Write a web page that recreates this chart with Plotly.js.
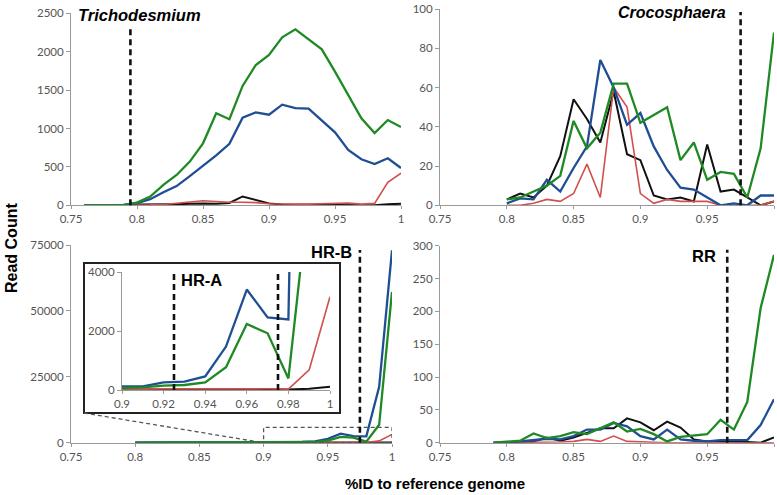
<!DOCTYPE html>
<html>
<head>
<meta charset="utf-8">
<script src="https://cdn.plot.ly/plotly-3.0.1.min.js"></script>
<style>html,body{margin:0;padding:0;background:#fff;}#chart{width:777px;height:495px;}</style>
</head>
<body>
<div id="chart"></div>
<script>
// ---------- data ----------
const triX = [0.76,0.77,0.78,0.79,0.80,0.81,0.82,0.83,0.84,0.85,0.86,0.87,0.88,0.89,0.90,0.91,0.92,0.93,0.94,0.95,0.96,0.97,0.98,0.99,1.00];
const triGreen = [0,0,0,5,35,113,265,395,569,807,1198,1120,1554,1827,1957,2187,2291,2161,2031,1740,1437,1133,940,1110,1020];
const triBlue  = [0,0,0,5,30,80,170,250,380,510,650,800,1140,1210,1180,1310,1265,1260,1105,950,720,600,537,612,486];
const triRed   = [0,0,0,0,0,5,10,25,45,60,50,40,40,35,20,15,15,15,20,25,30,15,25,300,417];
const triBlack = [0,0,0,0,10,10,10,15,20,25,20,30,115,75,25,10,10,10,10,8,5,2,0,15,20];

const croX = [0.80,0.81,0.82,0.83,0.84,0.85,0.86,0.87,0.88,0.89,0.90,0.91,0.92,0.93,0.94,0.95,0.96,0.97,0.98,0.99,1.00];
const croGreen = [3,4,7,10,15,43,29,37,62,62,42,46,50,23,32,13,17,16,4,29,88];
const croBlue  = [1,3.5,3,13,7,19,30,74,60,41,47,30,18,9,8,4,0,1,0,5,5];
const croBlack = [3,6,4,10,25,54,44,32,58,26,23,5,3,4,2,31,7,8,4,0,2];
const croRed   = [0,0,1,3,2,6,21,4,60,50,6,1,3,2,2,2,0,0,0,0,2];

const hrX = [0.80,0.81,0.82,0.83,0.84,0.85,0.86,0.87,0.88,0.89,0.90,0.91,0.92,0.93,0.94,0.95,0.96,0.97,0.98,0.99,1.00];
const hrGreen = [20,20,25,30,30,40,45,50,55,60,67,90,146,169,258,775,2237,1922,393,6800,57200];
const hrBlue  = [30,35,40,45,50,55,60,70,80,100,124,124,258,281,460,1472,3405,2461,2394,21200,73000];
const hrRed   = [5,5,5,10,10,10,15,15,20,20,30,30,35,40,45,50,60,40,30,686,3158];
const hrBlack = [5,5,5,5,5,5,10,10,10,10,10,10,10,10,10,10,15,15,20,40,110];

const rrX = [0.79,0.80,0.81,0.82,0.83,0.84,0.85,0.86,0.87,0.88,0.89,0.90,0.91,0.92,0.93,0.94,0.95,0.96,0.97,0.98,0.99,1.00];
const rrGreen = [0,1,3,14,7,10,16,13,22,31,17,21,13,2,9,11,13,35,20,62,205,286];
const rrBlue  = [0,0,2,4,6,5,10,20,20,30,25,10,5,20,5,3,2,4,4,4,27,66];
const rrBlack = [0,0,1,2,8,3,8,15,22,22,37,31,19,32,23,5,2,2,2,1,0,8];
const rrRed   = [0,0,0,0,0,1,2,5,2,10,2,1,0,0,0,0,0,0,0,0,0,0];

const cutoffs = {tri: 0.795, cro: 0.975, hrA: 0.925, hrB: 0.975, rr: 0.965};
const zoomBoxTop = 5800;

// ---------- styling ----------
const C = {green:'#1f8a24', blue:'#1f4e94', red:'#d0504d', black:'#111111'};
const W = {green:2.3, blue:2.3, red:1.6, black:2};

function series(x, ys, xa, ya){
  const order = [['black',ys.black],['red',ys.red],['blue',ys.blue],['green',ys.green]];
  return order.map(([k,v]) => ({
    x: x, y: v, xaxis: xa, yaxis: ya, type:'scatter', mode:'lines',
    line:{color:C[k], width:W[k]}, hoverinfo:'skip', showlegend:false
  }));
}

const traces = [].concat(
  series(triX, {green:triGreen, blue:triBlue, red:triRed, black:triBlack}, 'x', 'y'),
  series(croX, {green:croGreen, blue:croBlue, red:croRed, black:croBlack}, 'x2', 'y2'),
  series(hrX, {green:hrGreen, blue:hrBlue, red:hrRed, black:hrBlack}, 'x3', 'y3'),
  series(rrX, {green:rrGreen, blue:rrBlue, red:rrRed, black:rrBlack}, 'x4', 'y4'),
  series(hrX, {green:hrGreen, blue:hrBlue, red:hrRed, black:hrBlack}, 'x5', 'y5')
);

const tickFont = {family:'Lato, "Liberation Sans", sans-serif', size:11.5, color:'#555'};
function xax(domain, anchor, range, dtick){
  return {domain:domain, anchor:anchor, range:range, dtick:dtick, tick0:range[0],
    showgrid:false, zeroline:false, showline:true, linecolor:'#9a9a9a', linewidth:1,
    ticks:'outside', ticklen:3, tickcolor:'#9a9a9a', tickfont:tickFont, fixedrange:true};
}
function yax(domain, anchor, range, dtick){
  return {domain:domain, anchor:anchor, range:range, dtick:dtick, tick0:0, tickformat:'d',
    showgrid:false, zeroline:false, showline:true, linecolor:'#9a9a9a', linewidth:1,
    ticks:'outside', ticklen:4, tickcolor:'#9a9a9a', tickfont:tickFont, fixedrange:true};
}
const px = v => v/777, py = v => 1 - v/495;

const dash = {color:'#111', width:2.6, dash:'6px,4px'};
const layout = {
  width:777, height:495, margin:{l:0,r:0,t:0,b:0},
  paper_bgcolor:'#fff', plot_bgcolor:'rgba(0,0,0,0)', showlegend:false,
  xaxis: xax([px(71), px(401)], 'y', [0.75,1], 0.05),
  yaxis: yax([py(205.3), py(13.3)], 'x', [0,2500], 500),
  xaxis2: xax([px(440), px(774)], 'y2', [0.75,1], 0.05),
  yaxis2: yax([py(205.3), py(9)], 'x2', [0,100], 20),
  xaxis3: xax([px(71), px(392)], 'y3', [0.75,1], 0.05),
  yaxis3: yax([py(442.7), py(245)], 'x3', [0,75000], 25000),
  xaxis4: xax([px(440), px(774)], 'y4', [0.75,1], 0.05),
  yaxis4: yax([py(442.7), py(245.7)], 'x4', [0,300], 50),
  xaxis5: xax([px(122), px(330)], 'y5', [0.9,1], 0.02),
  yaxis5: yax([py(390), py(272)], 'x5', [0,4000], 2000),
  shapes: [
    {type:'rect', xref:'paper', yref:'paper', x0:px(84), x1:px(340), y0:py(413), y1:py(263),
     line:{color:'#222', width:2}, fillcolor:'#fff', layer:'below'},
    {type:'line', xref:'paper', yref:'paper', x0:px(84), x1:px(263), y0:py(413), y1:py(442.7),
     line:{color:'#555', width:1.3, dash:'4px,3px'}},
    {type:'rect', xref:'x3', yref:'y3', x0:0.9, x1:1.0, y0:0, y1:zoomBoxTop,
     line:{color:'#555', width:1.3, dash:'4px,3px'}},
    {type:'line', xref:'x', yref:'y domain', x0:cutoffs.tri, x1:cutoffs.tri, y0:0, y1:0.92, line:dash},
    {type:'line', xref:'x2', yref:'y2 domain', x0:cutoffs.cro, x1:cutoffs.cro, y0:0, y1:0.985, line:dash},
    {type:'line', xref:'x3', yref:'y3 domain', x0:cutoffs.hrB, x1:cutoffs.hrB, y0:0, y1:0.975, line:dash},
    {type:'line', xref:'x4', yref:'y4 domain', x0:cutoffs.rr, x1:cutoffs.rr, y0:0, y1:0.98, line:dash},
    {type:'line', xref:'x5', yref:'y5 domain', x0:cutoffs.hrA, x1:cutoffs.hrA, y0:0, y1:1, line:dash},
    {type:'line', xref:'x5', yref:'y5 domain', x0:cutoffs.hrB, x1:cutoffs.hrB, y0:0, y1:1, line:dash}
  ],
  annotations: [
    {text:'<b><i>Trichodesmium</i></b>', xref:'paper', yref:'paper', x:px(76), y:py(15), xanchor:'left', yanchor:'middle', showarrow:false,
     font:{family:'"Liberation Sans", Arial, sans-serif', size:16.5, color:'#000'}},
    {text:'<b><i>Crocosphaera</i></b>', xref:'paper', yref:'paper', x:px(728), y:py(12), xanchor:'right', yanchor:'middle', showarrow:false,
     font:{family:'"Liberation Sans", Arial, sans-serif', size:16, color:'#000'}},
    {text:'<b>HR-B</b>', xref:'paper', yref:'paper', x:px(354), y:py(252), xanchor:'right', yanchor:'middle', showarrow:false,
     font:{family:'"Liberation Sans", Arial, sans-serif', size:16.5, color:'#000'}},
    {text:'<b>HR-A</b>', xref:'paper', yref:'paper', x:px(179), y:py(280), xanchor:'left', yanchor:'middle', showarrow:false,
     font:{family:'"Liberation Sans", Arial, sans-serif', size:16.5, color:'#000'}},
    {text:'<b>RR</b>', xref:'paper', yref:'paper', x:px(718), y:py(256), xanchor:'right', yanchor:'middle', showarrow:false,
     font:{family:'"Liberation Sans", Arial, sans-serif', size:16.5, color:'#000'}},
    {text:'<b>Read Count</b>', xref:'paper', yref:'paper', x:px(11), y:py(248), xanchor:'center', yanchor:'middle', textangle:-90, showarrow:false,
     font:{family:'"Liberation Sans", Arial, sans-serif', size:16, color:'#000'}},
    {text:'<b>%ID to reference genome</b>', xref:'paper', yref:'paper', x:px(435), y:py(483), xanchor:'center', yanchor:'middle', showarrow:false,
     font:{family:'"Liberation Sans", Arial, sans-serif', size:15, color:'#000'}}
  ]
};

Plotly.newPlot('chart', traces, layout, {staticPlot:true, displayModeBar:false});
</script>
</body>
</html>
